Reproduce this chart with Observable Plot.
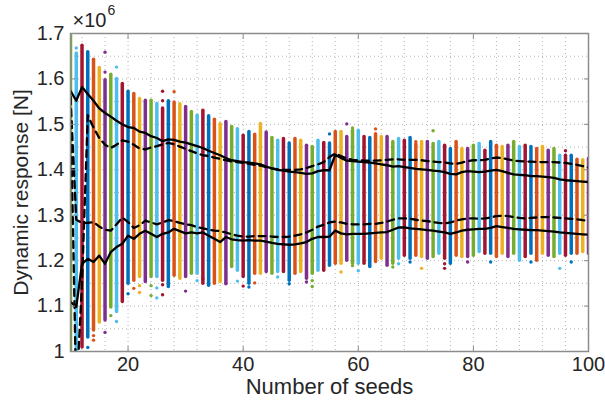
<!DOCTYPE html>
<html>
<head>
<meta charset="utf-8">
<script src="https://cdn.jsdelivr.net/npm/d3@7"></script>
<script src="https://cdn.jsdelivr.net/npm/@observablehq/plot@0.6"></script>
<style>
  html, body { margin: 0; padding: 0; background: #fff; }
  #chart { width: 605px; height: 403px; }
  svg { font-family: "Liberation Sans", Arial, Helvetica, sans-serif; }
</style>
</head>
<body>
<div id="chart"></div>
<script>
// Number of seeds (x) — one column of simulated responses per seed count
const seeds = d3.range(10, 101);

// Extent of each column of responses (x10^6 N)
const colHigh = [
  1.695, 1.656, 1.673, 1.659, 1.642, 1.624, 1.597, 1.609, 1.600, 1.589,
  1.572, 1.567, 1.556, 1.552, 1.552, 1.545, 1.535, 1.551, 1.548, 1.544,
  1.538, 1.527, 1.519, 1.530, 1.518, 1.510, 1.500, 1.505, 1.494, 1.489,
  1.475, 1.483, 1.477, 1.495, 1.482, 1.470, 1.464, 1.468, 1.458, 1.468,
  1.464, 1.453, 1.450, 1.464, 1.459, 1.458, 1.483, 1.483, 1.472, 1.486,
  1.486, 1.472, 1.470, 1.478, 1.472, 1.472, 1.461, 1.468, 1.464, 1.470,
  1.456, 1.461, 1.461, 1.457, 1.461, 1.453, 1.446, 1.461, 1.446, 1.446,
  1.453, 1.457, 1.442, 1.461, 1.453, 1.450, 1.453, 1.461, 1.450, 1.453,
  1.450, 1.446, 1.450, 1.442, 1.442, 1.431, 1.431, 1.431, 1.422, 1.421,
  1.424
];
const colLow = [
  0.970, 0.970, 1.009, 1.031, 1.046, 1.064, 1.068, 1.097, 1.087, 1.109,
  1.149, 1.156, 1.164, 1.153, 1.164, 1.164, 1.156, 1.142, 1.167, 1.160,
  1.164, 1.171, 1.171, 1.149, 1.145, 1.149, 1.153, 1.149, 1.186, 1.178,
  1.164, 1.149, 1.171, 1.171, 1.175, 1.171, 1.175, 1.175, 1.156, 1.171,
  1.175, 1.160, 1.171, 1.178, 1.178, 1.189, 1.193, 1.193, 1.200, 1.193,
  1.193, 1.193, 1.186, 1.197, 1.204, 1.189, 1.193, 1.204, 1.211, 1.204,
  1.211, 1.208, 1.204, 1.208, 1.215, 1.204, 1.193, 1.211, 1.208, 1.208,
  1.211, 1.219, 1.215, 1.215, 1.208, 1.215, 1.208, 1.215, 1.200, 1.208,
  1.215, 1.200, 1.215, 1.211, 1.208, 1.215, 1.211, 1.215, 1.215, 1.219,
  1.215
];

// Isolated responses outside the dense part of a column: [seeds, value]
const outliers = [
  [11, 1.668], [16, 1.659], [16, 1.615], [18, 1.626], [26, 1.552], [26, 1.573],
  [28, 1.572], [43, 1.502], [55, 1.479], [58, 1.501], [59, 1.492], [63, 1.490],
  [70, 1.462], [73, 1.486], [94, 1.447], [96, 1.442],
  [13, 1.009], [14, 1.035], [14, 1.025], [16, 1.042], [17, 1.079], [18, 1.066],
  [20, 1.127], [21, 1.139], [22, 1.145], [22, 1.130], [24, 1.145], [24, 1.123],
  [25, 1.140], [25, 1.118], [26, 1.147], [26, 1.125], [30, 1.133], [32, 1.156],
  [33, 1.160], [37, 1.149], [39, 1.155], [40, 1.144], [41, 1.142], [42, 1.151],
  [46, 1.164], [48, 1.149], [51, 1.153], [52, 1.156], [52, 1.143], [57, 1.175],
  [59, 1.189], [60, 1.178], [66, 1.186], [67, 1.193], [69, 1.197], [71, 1.183],
  [75, 1.193], [75, 1.183], [79, 1.197], [83, 1.197], [90, 1.197], [95, 1.183],
  [97, 1.197]
];

// Summary curves across the number of seeds
const upperSolid = [
  1.574, 1.552, 1.582, 1.567, 1.552, 1.535, 1.525, 1.517, 1.508, 1.500,
  1.494, 1.492, 1.484, 1.481, 1.474, 1.470, 1.463, 1.467, 1.466, 1.462,
  1.460, 1.456, 1.452, 1.448, 1.442, 1.437, 1.432, 1.426, 1.421, 1.419,
  1.417, 1.416, 1.414, 1.412, 1.407, 1.403, 1.400, 1.398, 1.396, 1.395,
  1.393, 1.391, 1.392, 1.397, 1.399, 1.399, 1.433, 1.426, 1.420, 1.419,
  1.418, 1.417, 1.416, 1.414, 1.412, 1.410, 1.407, 1.408, 1.406, 1.404,
  1.402, 1.401, 1.400, 1.398, 1.397, 1.395, 1.391, 1.390, 1.395, 1.397,
  1.396, 1.395, 1.396, 1.398, 1.400, 1.397, 1.393, 1.390, 1.389, 1.388,
  1.386, 1.386, 1.385, 1.384, 1.382, 1.379, 1.377, 1.376, 1.375, 1.374,
  1.373
];
const lowerSolid = [
  1.109, 1.098, 1.193, 1.204, 1.197, 1.211, 1.193, 1.219, 1.230, 1.237,
  1.255, 1.248, 1.259, 1.266, 1.259, 1.252, 1.259, 1.262, 1.270, 1.265,
  1.260, 1.262, 1.260, 1.262, 1.255, 1.248, 1.241, 1.252, 1.247, 1.245,
  1.244, 1.245, 1.244, 1.244, 1.242, 1.239, 1.237, 1.236, 1.235, 1.236,
  1.238, 1.241, 1.248, 1.252, 1.252, 1.253, 1.266, 1.260, 1.258, 1.259,
  1.259, 1.259, 1.260, 1.261, 1.262, 1.263, 1.268, 1.273, 1.273, 1.271,
  1.270, 1.269, 1.267, 1.266, 1.264, 1.262, 1.259, 1.262, 1.266, 1.268,
  1.269, 1.270, 1.270, 1.272, 1.276, 1.274, 1.272, 1.270, 1.269, 1.268,
  1.267, 1.267, 1.266, 1.265, 1.264, 1.262, 1.261, 1.260, 1.259, 1.258,
  1.257
];
const upperDashed = [
  1.560, 0.900, 1.150, 1.520, 1.493, 1.470, 1.455, 1.448, 1.455, 1.465,
  1.462, 1.455, 1.447, 1.445, 1.449, 1.452, 1.456, 1.459, 1.456, 1.451,
  1.446, 1.441, 1.436, 1.432, 1.430, 1.427, 1.424, 1.421, 1.418, 1.417,
  1.415, 1.413, 1.411, 1.409, 1.406, 1.403, 1.401, 1.400, 1.400, 1.400,
  1.401, 1.404, 1.408, 1.412, 1.417, 1.428, 1.436, 1.430, 1.425, 1.422,
  1.421, 1.420, 1.420, 1.420, 1.421, 1.422, 1.423, 1.423, 1.422, 1.422,
  1.422, 1.421, 1.419, 1.418, 1.417, 1.416, 1.414, 1.413, 1.416, 1.419,
  1.421, 1.421, 1.422, 1.425, 1.427, 1.426, 1.423, 1.420, 1.419, 1.418,
  1.418, 1.417, 1.417, 1.417, 1.417, 1.416, 1.415, 1.413, 1.411, 1.408,
  1.405
];
const lowerDashed = [
  1.560, 1.290, 1.283, 1.283, 1.285, 1.275, 1.268, 1.266, 1.280, 1.295,
  1.285, 1.272, 1.278, 1.288, 1.284, 1.280, 1.284, 1.289, 1.287, 1.283,
  1.280, 1.278, 1.274, 1.271, 1.268, 1.266, 1.265, 1.262, 1.258, 1.255,
  1.253, 1.253, 1.254, 1.254, 1.254, 1.253, 1.252, 1.252, 1.253, 1.255,
  1.258, 1.262, 1.268, 1.275, 1.279, 1.284, 1.286, 1.284, 1.281, 1.280,
  1.280, 1.280, 1.281, 1.281, 1.283, 1.286, 1.290, 1.293, 1.293, 1.292,
  1.290, 1.288, 1.287, 1.285, 1.283, 1.282, 1.284, 1.288, 1.291, 1.293,
  1.293, 1.292, 1.293, 1.295, 1.298, 1.299, 1.298, 1.296, 1.294, 1.293,
  1.294, 1.295, 1.296, 1.296, 1.295, 1.294, 1.293, 1.292, 1.291, 1.289,
  1.288
];

// Axis ticks and grid positions
const xTicks = [20, 40, 60, 80, 100];
const yTicks = [1.0, 1.1, 1.2, 1.3, 1.4, 1.5, 1.6, 1.7];
const xGrid = d3.range(12, 101, 4);
const yGrid = d3.range(1.05, 1.70, 0.05).map(v => +v.toFixed(2));

// Default line colour order, cycled over the columns
const palette = ["#0072BD", "#D95319", "#EDB120", "#7E2F8E", "#77AC30", "#4DBEEE", "#A2142F"];
const colourOf = s => palette[(s + 1) % 7];

const columns = seeds.map((s, i) => ({s, lo: colLow[i], hi: colHigh[i], c: colourOf(s)}));
const spots = outliers.map(([s, v]) => ({s, v, c: colourOf(s)}));
const curve = arr => seeds.map((s, i) => ({s, v: arr[i]}));

const ink = "#262626";
const frameGray = "#8c8c8c";

const chart = Plot.plot({
  width: 605,
  height: 403,
  marginLeft: 70,
  marginRight: 17,
  marginTop: 33,
  marginBottom: 52,
  style: {fontFamily: '"Liberation Sans", Arial, sans-serif', background: "#fff"},
  x: {domain: [10, 100]},
  y: {domain: [1.0, 1.7]},
  color: {type: "identity"},
  marks: [
    // dotted grid
    Plot.ruleX(xGrid, {stroke: "#b4b4b4", strokeWidth: 1, strokeDasharray: "1,3"}),
    Plot.ruleY(yGrid, {stroke: "#b4b4b4", strokeWidth: 1, strokeDasharray: "1,3"}),
    // response columns
    Plot.ruleX(columns, {x: "s", y1: "lo", y2: "hi", stroke: "c", strokeWidth: 3.5, strokeLinecap: "round", clip: true}),
    Plot.dot(spots, {x: "s", y: "v", fill: "c", r: 1.7, clip: true}),
    // summary curves
    Plot.line(curve(upperDashed), {x: "s", y: "v", stroke: "#000", strokeWidth: 2.3, strokeDasharray: "7,5", clip: true}),
    Plot.line(curve(lowerDashed), {x: "s", y: "v", stroke: "#000", strokeWidth: 2.3, strokeDasharray: "7,5", clip: true}),
    Plot.line(curve(upperSolid), {x: "s", y: "v", stroke: "#000", strokeWidth: 2.3, clip: true}),
    Plot.line(curve(lowerSolid), {x: "s", y: "v", stroke: "#000", strokeWidth: 2.3, clip: true}),
    // box
    Plot.frame({stroke: frameGray, strokeWidth: 1.5}),
    // inward ticks on all four sides
    Plot.axisX(xTicks, {anchor: "bottom", tickSize: -5, stroke: frameGray, tickFormat: () => "", label: null}),
    Plot.axisX(xTicks, {anchor: "top", tickSize: -5, stroke: frameGray, tickFormat: () => "", label: null}),
    Plot.axisY(yTicks, {anchor: "left", tickSize: -5, stroke: frameGray, tickFormat: () => "", label: null}),
    Plot.axisY(yTicks, {anchor: "right", tickSize: -5, stroke: frameGray, tickFormat: () => "", label: null}),
    // tick labels
    Plot.axisX(xTicks, {anchor: "bottom", tickSize: 0, tickPadding: 5, fontSize: 20, color: ink, label: null}),
    Plot.axisY(yTicks, {anchor: "left", tickSize: 0, tickPadding: 6, fontSize: 20, color: ink, label: null,
      tickFormat: d => String(+d.toFixed(1))}),
    // axis titles and exponent
    Plot.text(["Number of seeds"], {frameAnchor: "bottom", lineAnchor: "middle", textAnchor: "middle", dy: 35, fontSize: 22, fill: ink}),
    Plot.text(["Dynamic response [N]"], {frameAnchor: "left", lineAnchor: "middle", textAnchor: "middle", dx: -49, rotate: -90, fontSize: 21, fill: ink}),
    Plot.text(["\u00d710"], {frameAnchor: "top-left", lineAnchor: "middle", textAnchor: "start", dx: 2, dy: -13, fontSize: 20, fill: ink}),
    Plot.text(["6"], {frameAnchor: "top-left", lineAnchor: "middle", textAnchor: "start", dx: 37, dy: -23, fontSize: 14, fill: ink})
  ]
});

document.getElementById("chart").appendChild(chart);
</script>
</body>
</html>
